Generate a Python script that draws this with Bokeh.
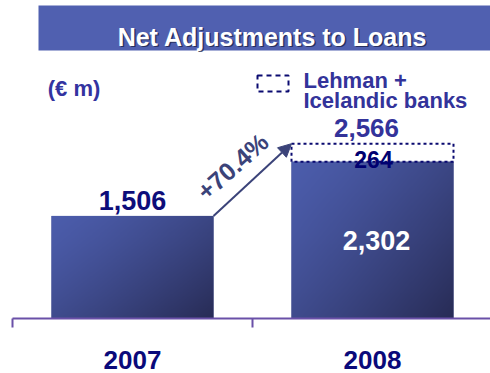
import numpy as np
from bokeh.plotting import figure
from bokeh.models import Range1d, FixedTicker, Arrow, NormalHead
from bokeh.core.properties import value
from bokeh.embed import file_html
from bokeh.resources import INLINE

# ---- data ----
years = ["2007", "2008"]
base_values = [1506, 2302]
lehman_values = [0, 264]
total_labels = ["1,506", "2,566"]
base_label_2008 = "2,302"
lehman_label = "264"
growth_label = "+70.4%"
title_text = "Net Adjustments to Loans"
unit_text = "(€ m)"
legend_lines = ["Lehman +", "Icelandic banks"]

FONT = value("Liberation Sans")
W = 0.675
totals = [b + l for b, l in zip(base_values, lehman_values)]
xpos = list(range(len(years)))

# screen -> data helpers (frame spans screen x 0..490, y 0..318)
X0, X1 = -0.5 - 12 / 240, 1.5 - 2 / 240
Y_TOP = 318 * 4550 / 310


def fx(sx):
    return X0 + sx / 240


def fy(sy):
    return (318 - sy) / 310 * 4550


p = figure(width=490, height=373, x_range=Range1d(X0, X1), y_range=Range1d(0, Y_TOP),
           output_backend="svg", toolbar_location=None, y_axis_location=None,
           min_border_left=0, min_border_right=0, min_border_top=0, min_border_bottom=55)
p.outline_line_color = None
p.xgrid.visible = False
p.ygrid.visible = False
p.background_fill_color = "white"

# axis
ax = p.xaxis[0]
ax.ticker = FixedTicker(ticks=xpos, minor_ticks=[-0.5, 0.5, 1.5])
ax.major_label_overrides = {i: y for i, y in zip(xpos, years)}
ax.bounds = (-0.5, 1.5)
ax.axis_line_color = "#6a50a8"
ax.axis_line_width = 2
ax.major_tick_line_color = None
ax.major_tick_out = 0
ax.major_tick_in = 0
ax.minor_tick_line_color = "#6a50a8"
ax.minor_tick_line_width = 2
ax.minor_tick_out = 9
ax.minor_tick_in = 0
ax.major_label_standoff = 23
ax.major_label_text_font = "Liberation Sans"
ax.major_label_text_font_style = "bold"
ax.major_label_text_font_size = "26px"
ax.major_label_text_color = "#0a0a7a"

# title banner
p.quad(left=[fx(38)], right=[X1], top=[fy(5)], bottom=[fy(50)],
       fill_color="#5060b0", line_color=None)
p.text(x=[fx(272)], y=[fy(36)], text=[title_text], x_offset=1.5, y_offset=1.5,
       text_font=FONT, text_font_style="bold", text_font_size="25px",
       text_color="#1a1f45", text_alpha=0.75, text_align="center", text_baseline="alphabetic")
p.text(x=[fx(272)], y=[fy(36)], text=[title_text],
       text_font=FONT, text_font_style="bold", text_font_size="25px",
       text_color="white", text_align="center", text_baseline="alphabetic")

# bars (solid base + gradient overlay)
p.quad(left=[x - W / 2 for x in xpos], right=[x + W / 2 for x in xpos],
       top=base_values, bottom=[0] * len(xpos), fill_color="#3e4a8c", line_color=None)


def gradient(h=160, w=160):
    u = np.linspace(0, 1, w)[None, :]
    vb = np.linspace(0, 1, h)[:, None]  # 0 bottom -> 1 top
    t = np.clip(0.55 * u + 0.45 * (1 - vb), 0, 1) ** 1.3
    light = np.array([76, 93, 172])
    dark = np.array([40, 44, 86])
    img = np.empty((h, w, 4), dtype=np.uint8)
    for c in range(3):
        img[:, :, c] = (light[c] + (dark[c] - light[c]) * t).astype(np.uint8)
    img[:, :, 3] = 255
    return img.view(dtype=np.uint32).reshape((h, w))


p.image_rgba(image=[gradient() for _ in xpos], x=[x - W / 2 for x in xpos],
             y=[0] * len(xpos), dw=[W] * len(xpos), dh=base_values)

# lehman dashed box
p.quad(left=[x - W / 2 for x in xpos[1:]], right=[x + W / 2 for x in xpos[1:]],
       top=totals[1:], bottom=base_values[1:], fill_color=None,
       line_color="#0a0a70", line_width=2, line_dash="3 3")

# value labels
p.text(x=[xpos[0]], y=[totals[0]], text=[total_labels[0]], y_offset=-15,
       text_font=FONT, text_font_style="bold", text_font_size="27px",
       text_color="#0d0d7a", text_align="center", text_baseline="alphabetic")
p.text(x=[xpos[1]], y=[totals[1]], text=[total_labels[1]], x_offset=-6, y_offset=-16,
       text_font=FONT, text_font_style="bold", text_font_size="26px",
       text_color="#33339a", text_align="center", text_baseline="alphabetic")
p.text(x=[xpos[1]], y=[totals[1]], text=[lehman_label], x_offset=1, y_offset=16,
       text_font=FONT, text_font_style="bold", text_font_size="23px",
       text_color="#000070", text_align="center", text_baseline="alphabetic")
p.text(x=[xpos[1]], y=[base_values[1]], text=[base_label_2008], x_offset=4, y_offset=79,
       text_font=FONT, text_font_style="bold", text_font_size="27px",
       text_color="white", text_align="center", text_baseline="alphabetic")

# growth arrow
arrow_color = "#3b4379"
p.add_layout(Arrow(end=NormalHead(size=13, fill_color=arrow_color, line_color=arrow_color),
                   x_start=xpos[0] + W / 2, y_start=totals[0],
                   x_end=xpos[1] - W / 2, y_end=totals[1],
                   line_color=arrow_color, line_width=2))
p.text(x=[fx(232)], y=[fy(166)], text=[growth_label], angle=41.6, angle_units="deg",
       text_font=FONT, text_font_style="bold", text_font_size="25px",
       text_color=arrow_color, text_align="center", text_baseline="middle")

# unit label
p.text(x=[fx(73.5)], y=[fy(88)], text=[unit_text],
       text_font=FONT, text_font_style="bold", text_font_size="22px",
       text_color="#3333a0", text_align="center", text_baseline="alphabetic")

# legend
p.quad(left=[fx(257)], right=[fx(288)], top=[fy(75)], bottom=[fy(91)],
       fill_color=None, line_color="#0a0a70", line_width=2, line_dash="5 4")
p.text(x=[fx(303)] * 2, y=[fy(80), fy(100)], text=legend_lines,
       text_font=FONT, text_font_style="bold", text_font_size="22px",
       text_color="#33339a", text_align="left", text_baseline="alphabetic")

open("out.html", "w").write(file_html(p, INLINE))
